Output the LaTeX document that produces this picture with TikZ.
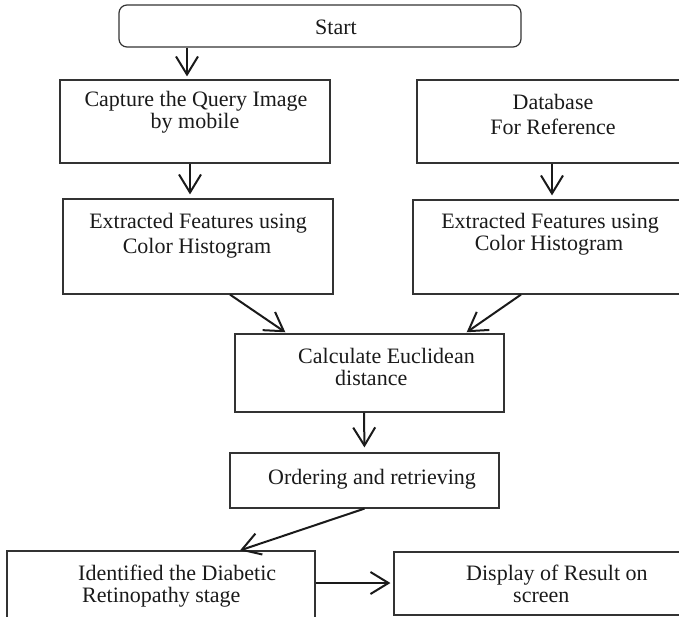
\documentclass[tikz,border=0pt]{standalone}
\usepackage{fontspec}
\setmainfont{Liberation Serif}
\usetikzlibrary{arrows.meta,calc}
\definecolor{boxgray}{HTML}{333333}
\definecolor{inkblack}{HTML}{1A1A1A}
\begin{document}
\begin{tikzpicture}[x=1pt,y=-1pt,
  box/.style={draw=boxgray,line width=1.2pt,rectangle,inner sep=0pt},
  txt/.style={anchor=base,inner sep=0pt,text=inkblack,font=\fontsize{22}{22}\selectfont},
  txtw/.style={txt,anchor=base west},
  arr/.style={-{Straight Barb[length=18pt,width=22pt]},line width=2pt,draw=inkblack}]
\useasboundingbox (0,0) rectangle (679,617);

% boxes
\node[box,rounded corners=8pt,minimum width=402pt,minimum height=42pt] (start) at (320,26) {};
\node[box,minimum width=270pt,minimum height=83pt] (capture) at (195,121.5) {};
\node[box,minimum width=268pt,minimum height=83pt] (db) at (551,121.5) {};
\node[box,minimum width=270pt,minimum height=95pt] (exL) at (198,246.5) {};
\node[box,minimum width=272pt,minimum height=94pt] (exR) at (549,247) {};
\node[box,minimum width=269pt,minimum height=78pt] (calc) at (369.5,373) {};
\node[box,minimum width=269pt,minimum height=55pt] (order) at (364.5,480.5) {};
\node[box,minimum width=308pt,minimum height=74pt] (ident) at (161,588) {};
\node[box,minimum width=291pt,minimum height=63pt] (disp) at (539.5,583.5) {};

% labels
\node[txt] (tStart) at (336,35) {Start};
\node[txt] (tCap1) at (196,107) {Capture the Query Image};
\node[txt] (tCap2) at (195,129) {by mobile};
\node[txt] (tDb1) at (553,110) {Database};
\node[txt] (tDb2) at (553,135) {For Reference};
\node[txt] (tExL1) at (198,229) {Extracted Features using};
\node[txt] (tExL2) at (197,254) {Color Histogram};
\node[txt] (tExR1) at (550,229) {Extracted Features using};
\node[txt] (tExR2) at (549,251) {Color Histogram};
\node[txtw] (tCalc1) at (298,363) {Calculate Euclidean};
\node[txtw] (tCalc2) at (335,385) {distance};
\node[txtw] (tOrder) at (268,484) {Ordering and retrieving};
\node[txtw] (tId1) at (78,580) {Identified the Diabetic};
\node[txtw] (tId2) at (82,602) {Retinopathy stage};
\node[txtw] (tDisp1) at (466,580) {Display of Result on};
\node[txtw] (tDisp2) at (513,602) {screen};

% connectors
\draw[arr,shorten >=3pt] ($(start.south)+(-133,0)$) -- ($(capture.north)+(-8,0)$);
\draw[arr,shorten >=4pt] ($(capture.south)+(-5,0)$) -- ($(exL.north)+(-8,0)$);
\draw[arr,shorten >=4pt] ($(db.south)+(1,0)$) -- ($(exR.north)+(3,0)$);
\draw[arr,shorten >=2pt] ($(exL.south)+(32,0)$) -- ($(calc.north)+(-82.5,0)$);
\draw[arr,shorten >=2pt] ($(exR.south)+(-28,0)$) -- ($(calc.north)+(95.5,0)$);
\draw[arr,shorten >=5pt] ($(calc.south)+(-5.5,0)$) -- (order.north);
\draw[arr] (order.south) -- ($(ident.north)+(79,0)$);
\draw[arr,shorten >=3pt] ($(ident.east)+(0,-5)$) -- ($(disp.west)+(0,-0.5)$);
\end{tikzpicture}
\end{document}
